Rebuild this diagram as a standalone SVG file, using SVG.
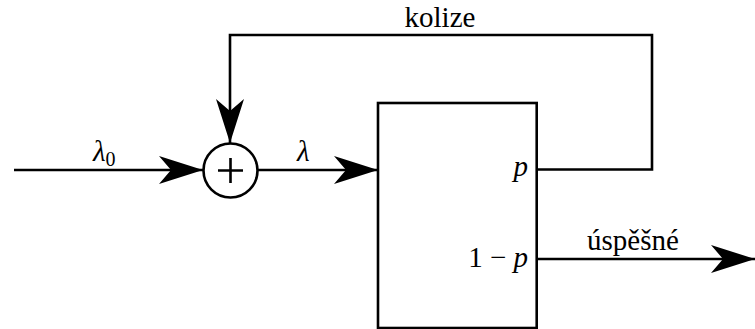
<svg xmlns="http://www.w3.org/2000/svg" width="755" height="329" viewBox="0 0 755 329">
<defs>
<marker id="ah" markerUnits="userSpaceOnUse" markerWidth="46" markerHeight="30" refX="44" refY="14" orient="auto" viewBox="0 0 46 30">
<path d="M44,14 L0,0 L12,14 L0,28 Z" fill="#000"/>
</marker>
</defs>
<rect width="755" height="329" fill="#fff"/>
<g fill="none" stroke="#000" stroke-width="2.6">
<g id="connectors">
<path d="M14,170 H203" marker-end="url(#ah)"/>
<path d="M258,170 H378" marker-end="url(#ah)"/>
<path d="M537,169.5 H652 V35 H230 V143" marker-end="url(#ah)"/>
<path d="M537,259 H755" marker-end="url(#ah)"/>
</g>
<g id="sum">
<circle cx="230.5" cy="170.5" r="27"/>
<path d="M218,170.5 H243 M230.5,158 V183"/>
</g>
<g id="box">
<rect x="378" y="103" width="158.7" height="225"/>
</g>
</g>
<g id="labels" fill="#000">
<text x="528" y="176" text-anchor="end" font-size="29" font-family="Liberation Serif" font-style="italic">p</text>
<text x="528" y="267" text-anchor="end" font-size="29" font-family="Liberation Serif">1 &#8722; <tspan font-style="italic">p</tspan></text>
<text x="93" y="161" font-size="29" font-family="Liberation Serif" font-style="italic">&#955;<tspan font-style="normal" font-size="20" dy="5">0</tspan></text>
<text x="297" y="161" font-size="29" font-family="Liberation Serif" font-style="italic">&#955;</text>
<text x="440" y="27" text-anchor="middle" font-size="29" font-family="Liberation Serif">kolize</text>
<text x="633" y="250" text-anchor="middle" font-size="29" font-family="Liberation Serif">&#250;sp&#283;&#353;n&#233;</text>
</g>
</svg>
